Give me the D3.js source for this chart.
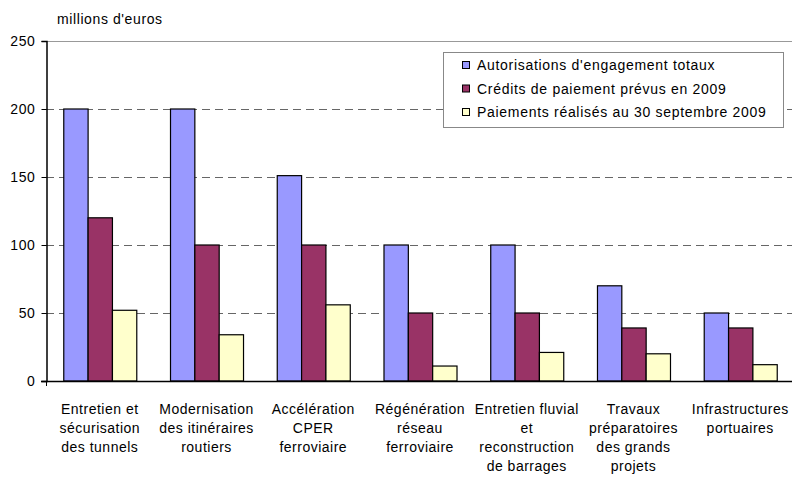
<!DOCTYPE html>
<html>
<head>
<meta charset="utf-8">
<script src="https://cdn.jsdelivr.net/npm/d3@7"></script>
<style>
  body { margin: 0; background: #fff; }
  svg { display: block; font-family: "Liberation Sans", Arial, sans-serif; }
</style>
</head>
<body>
<div id="chart"></div>
<script>
// Chart data
var categories = [
  ["Entretien et", "sécurisation", "des tunnels"],
  ["Modernisation", "des itinéraires", "routiers"],
  ["Accélération", "CPER", "ferroviaire"],
  ["Régénération", "réseau", "ferroviaire"],
  ["Entretien fluvial", "et", "reconstruction", "de barrages"],
  ["Travaux", "préparatoires", "des grands", "projets"],
  ["Infrastructures", "portuaires"]
];
var seriesNames = [
  "Autorisations d'engagement totaux",
  "Crédits de paiement prévus en 2009",
  "Paiements réalisés au 30 septembre 2009"
];
var autorisations = [200, 200, 151, 100, 100, 70, 50];
var creditsPrevus = [120, 100, 100, 50, 50, 39, 39];
var paiementsRealises = [52, 34, 56, 11, 21, 20, 12];
var yTicks = [0, 50, 100, 150, 200, 250];
var colors = ["#9999FF", "#993366", "#FFFFCC"];

var series = [autorisations, creditsPrevus, paiementsRealises];

// svg size and plot bounds
var svgWidth = 792;
var svgHeight = 477;
var plotLeft = 46;
var plotTop = 41;
var plotBottom = 381;

var svg = d3.select("#chart")
  .append("svg")
  .attr("width", svgWidth)
  .attr("height", svgHeight);

// scales
var xScale = d3.scaleBand()
  .domain(d3.range(categories.length))
  .range([46.4, 793.6])
  .paddingInner(0.316)
  .paddingOuter(0.158);

var xSub = d3.scaleBand()
  .domain(d3.range(series.length))
  .range([0, xScale.bandwidth()]);

var yScale = d3.scaleLinear()
  .domain([0, 250])
  .range([plotBottom, plotTop]);

// gridlines (top one solid, others dashed)
svg.append("g")
  .selectAll("line")
  .data(yTicks.filter(d => d > 0))
  .enter()
  .append("line")
  .attr("x1", plotLeft)
  .attr("x2", svgWidth)
  .attr("y1", d => Math.round(yScale(d)) + 0.5)
  .attr("y2", d => Math.round(yScale(d)) + 0.5)
  .attr("stroke", d => d === 250 ? "#999" : "#666")
  .attr("stroke-width", 1)
  .attr("stroke-dasharray", d => d === 250 ? null : "8,5");

// bars
var groups = svg.append("g")
  .selectAll("g")
  .data(categories)
  .enter()
  .append("g")
  .attr("transform", (d, i) => `translate(${xScale(i)},0)`);

groups.selectAll("rect")
  .data((d, i) => series.map((s, k) => ({ k: k, v: s[i] })))
  .enter()
  .append("rect")
  .attr("x", d => xSub(d.k) + 0.5)
  .attr("y", d => yScale(d.v))
  .attr("width", xSub.bandwidth())
  .attr("height", d => plotBottom - yScale(d.v))
  .attr("fill", d => colors[d.k])
  .attr("stroke", "#000")
  .attr("stroke-width", 1.2);

// y axis
var leftAxis = d3.axisLeft(yScale)
  .tickValues(yTicks)
  .tickSize(5)
  .tickPadding(6)
  .tickFormat(d3.format("d"));

var yAxis = svg.append("g")
  .attr("transform", `translate(${plotLeft + 0.5},0)`)
  .call(leftAxis);
yAxis.select(".domain").attr("stroke", "#000").attr("stroke-width", 1.5);
yAxis.selectAll("text")
  .attr("font-size", "14px")
  .attr("letter-spacing", "0.6px")
  .attr("fill", "#000")
  .attr("font-family", "Liberation Sans, Arial, sans-serif");

// x axis line
svg.append("line")
  .attr("x1", plotLeft - 5)
  .attr("x2", svgWidth)
  .attr("y1", plotBottom + 0.5)
  .attr("y2", plotBottom + 0.5)
  .attr("stroke", "#000")
  .attr("stroke-width", 1.5);
svg.append("line")
  .attr("x1", plotLeft + 0.5)
  .attr("x2", plotLeft + 0.5)
  .attr("y1", plotBottom)
  .attr("y2", plotBottom + 5)
  .attr("stroke", "#000");

// category labels
var catLabels = svg.append("g")
  .selectAll("text")
  .data(categories)
  .enter()
  .append("text")
  .attr("text-anchor", "middle")
  .attr("font-size", "14px")
  .attr("letter-spacing", "0.5px")
  .attr("fill", "#000")
  .attr("transform", (d, i) => `translate(${xScale(i) + xScale.bandwidth() / 2},0)`);

catLabels.selectAll("tspan")
  .data(d => d)
  .enter()
  .append("tspan")
  .attr("x", 0)
  .attr("y", (d, j) => 414 + j * 19)
  .text(d => d);

// unit label
svg.append("text")
  .attr("x", 57)
  .attr("y", 24)
  .attr("font-size", "14px")
  .attr("letter-spacing", "0.6px")
  .attr("fill", "#000")
  .text("millions d'euros");

// legend
var legend = svg.append("g");
legend.append("rect")
  .attr("x", 443.5)
  .attr("y", 52.5)
  .attr("width", 340)
  .attr("height", 75)
  .attr("fill", "#fff")
  .attr("stroke", "#888");

var legendItems = legend.selectAll("g")
  .data(seriesNames)
  .enter()
  .append("g")
  .attr("transform", (d, i) => `translate(0,${65 + i * 23.5})`);

legendItems.append("rect")
  .attr("x", 462.5)
  .attr("y", -3.5)
  .attr("width", 7)
  .attr("height", 7)
  .attr("fill", (d, i) => colors[i])
  .attr("stroke", "#000");

legendItems.append("text")
  .attr("x", 477)
  .attr("y", 5)
  .attr("font-size", "14px")
  .attr("letter-spacing", "0.7px")
  .attr("fill", "#000")
  .text(d => d);
</script>
</body>
</html>
